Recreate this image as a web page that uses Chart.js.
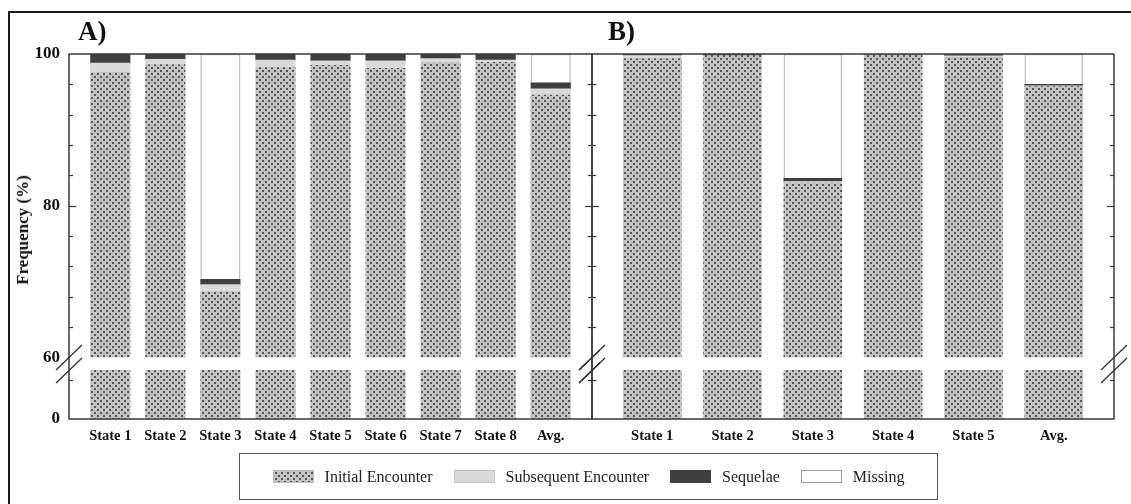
<!DOCTYPE html>
<html><head><meta charset="utf-8">
<script src="https://cdn.jsdelivr.net/npm/chart.js@4.4.1/dist/chart.umd.min.js"></script>
<style>
html,body{margin:0;padding:0;background:#fff;}
#wrap{position:relative;width:1131px;height:504px;overflow:hidden;background:#fff;font-family:'Liberation Serif','Times New Roman',serif;color:#111;}
#frame{position:absolute;left:8px;top:11px;width:1200px;height:600px;border:2px solid #1a1a1a;box-sizing:border-box;}
canvas{position:absolute;top:0;}
#cA{left:0;}
#cB{left:560px;}
.panel{position:absolute;font-weight:bold;font-size:27px;line-height:1;}
#ytitle{position:absolute;left:23px;top:230px;transform:translate(-50%,-50%) rotate(-90deg);font-weight:bold;font-size:17px;white-space:nowrap;}
#legend{position:absolute;left:239px;top:453px;width:699px;height:47px;border:1.5px solid #555;box-sizing:border-box;display:flex;align-items:center;justify-content:center;font-size:16px;color:#222;}
.item{display:flex;align-items:center;margin:0 10.5px;}
.sw{width:41px;height:13px;box-sizing:border-box;margin-right:11px;}
</style></head>
<body>
<div id="wrap">
  <div id="frame"></div>
  <canvas id="cA" width="600" height="460"></canvas>
  <canvas id="cB" width="571" height="460"></canvas>
  <div class="panel" style="left:78px;top:18px;">A)</div>
  <div class="panel" style="left:608px;top:18px;">B)</div>
  <div id="ytitle">Frequency (%)</div>
  <div id="legend"></div>
</div>
<script>
// ---------- data ----------
const seriesNames = ['Initial Encounter', 'Subsequent Encounter', 'Sequelae', 'Missing'];

const categoriesA = ['State 1', 'State 2', 'State 3', 'State 4', 'State 5', 'State 6', 'State 7', 'State 8', 'Avg.'];
const initialA    = [97.6, 98.6, 68.7, 98.2, 98.5, 98.1, 98.8, 98.9, 94.6];
const subsequentA = [1.2, 0.7, 0.9, 1.0, 0.6, 1.0, 0.6, 0.3, 0.8];
const sequelaeA   = [1.2, 0.7, 0.7, 0.8, 0.9, 0.9, 0.6, 0.8, 0.8];
const missingA    = [0, 0, 29.7, 0, 0, 0, 0, 0, 3.8];

const categoriesB = ['State 1', 'State 2', 'State 3', 'State 4', 'State 5', 'Avg.'];
const initialB    = [99.4, 99.8, 83.0, 99.9, 99.55, 95.7];
const subsequentB = [0.4, 0, 0.2, 0, 0.2, 0.1];
const sequelaeB   = [0.2, 0.2, 0.4, 0.1, 0.25, 0.2];
const missingB    = [0, 0, 16.4, 0, 0, 4.0];

const breakValue    = 60;
const topTicks      = [60, 64, 68, 72, 76, 80, 84, 88, 92, 96, 100];
const topTickLabels = [100, 80, 60];
const lowTicks      = [0, 48];
const lowTickLabels = [0];
const majorTicks    = [80];

// ---------- styles ----------
const patCanvas = document.createElement('canvas');
patCanvas.width = 6; patCanvas.height = 6;
(function () {
  const g = patCanvas.getContext('2d');
  g.fillStyle = '#c3c3c3'; g.fillRect(0, 0, 6, 6);
  g.fillStyle = '#555555'; g.fillRect(1, 1, 2, 2); g.fillRect(4, 4, 2, 2);
})();
const solidFills = [null, '#dadada', '#3f3f3f', '#ffffff'];
const borderCols = ['#bdbdbd', '#cfcfcf', '#3f3f3f', '#c4c4c4'];
const borderWs   = [0, 0, 0, 1.5];

Chart.defaults.font.family = "'Liberation Serif','Times New Roman',serif";
Chart.defaults.color = '#111';

function buildDatasets(initial, subsequent, sequelae, missing, pattern, thickness) {
  const series = [initial, subsequent, sequelae, missing];
  const ds = [];
  ds.push({
    label: seriesNames[0] + ' (below break)',
    data: initial.map(v => Math.min(v, breakValue)),
    yAxisID: 'yBot', backgroundColor: pattern, borderWidth: 0,
    grouped: false, barThickness: thickness
  });
  let cum = initial.map(() => breakValue);
  series.forEach((vals, k) => {
    const data = vals.map((v, i) => {
      const start = k === 0 ? breakValue : cum[i];
      const end = k === 0 ? v : cum[i] + v;
      return (end - start) > 0 ? [start, end] : null;
    });
    cum = cum.map((c, i) => (k === 0 ? vals[i] : c + vals[i]));
    ds.push({
      label: seriesNames[k], data, yAxisID: 'yTop',
      backgroundColor: k === 0 ? pattern : solidFills[k],
      borderColor: borderCols[k], borderWidth: borderWs[k], borderSkipped: 'start',
      grouped: false, barThickness: thickness
    });
  });
  return ds;
}

const framePlugin = {
  id: 'frame',
  afterDraw(chart) {
    const {ctx, chartArea: a} = chart;
    const yT = chart.scales.yTop, yB = chart.scales.yBot;
    const line = (x1, y1, x2, y2) => { ctx.beginPath(); ctx.moveTo(x1, y1); ctx.lineTo(x2, y2); ctx.stroke(); };
    ctx.save();
    ctx.strokeStyle = '#3a3a3a';
    ctx.lineWidth = 1.5;
    ctx.strokeRect(a.left, a.top, a.right - a.left, a.bottom - a.top);
    ctx.lineWidth = 1.2;
    const sets = [[yT, topTicks.filter(v => v > yT.min && v < yT.max)], [yB, lowTicks.filter(v => v > yB.min)]];
    for (const [s, vals] of sets) {
      for (const v of vals) {
        const y = Math.round(s.getPixelForValue(v)) + 0.5;
        const len = majorTicks.includes(v) ? 7 : 4;
        line(a.left, y, a.left + len, y);
        line(a.right, y, a.right - len, y);
      }
    }
    const yb1 = yT.getPixelForValue(yT.min), yb2 = yB.getPixelForValue(breakValue);
    ctx.lineWidth = 1.3;
    ctx.strokeStyle = '#333';
    for (const x of [a.left, a.right]) {
      for (const yc of [yb1, yb2]) line(x - 13, yc + 12.5, x + 13, yc - 12.5);
    }
    ctx.restore();
  }
};

function makeChart(id, labels, series, o) {
  const canvas = document.getElementById(id);
  const pattern = canvas.getContext('2d').createPattern(patCanvas, 'repeat');
  return new Chart(canvas, {
    type: 'bar',
    data: { labels, datasets: buildDatasets(...series, pattern, o.thickness) },
    options: {
      responsive: false, animation: false, devicePixelRatio: 1,
      layout: { padding: o.padding },
      plugins: { legend: { display: false }, tooltip: { enabled: false }, title: { display: false } },
      scales: {
        x: {
          type: 'category', offset: true,
          grid: { display: false, drawTicks: false }, border: { display: false },
          ticks: { font: { size: 14.5, weight: 'bold' }, color: '#111', padding: 9, maxRotation: 0, autoSkip: false },
          afterBuildTicks: s => { s._startValue = -0.75; s._valueRange = s.getLabels().length + 0.5; },
          afterFit: s => { s.height = 41; }
        },
        yBot: {
          type: 'linear', position: 'left', stack: 'v', stackWeight: 61.5,
          min: 0, max: 76,
          grid: { display: false, drawTicks: false }, border: { display: false },
          afterBuildTicks: s => { s.ticks = lowTicks.map(v => ({ value: v })); },
          ticks: { display: o.showY, autoSkip: false, padding: 9, color: '#111',
                   font: { size: 17, weight: 'bold' },
                   callback: v => lowTickLabels.includes(v) ? String(v) : '' },
          afterFit: s => { s.width = o.yWidth; }
        },
        yTop: {
          type: 'linear', position: 'left', stack: 'v', stackWeight: 303.5,
          min: breakValue, max: 100,
          grid: { display: false, drawTicks: false }, border: { display: false },
          afterBuildTicks: s => { s.ticks = topTicks.map(v => ({ value: v })); },
          ticks: { display: o.showY, autoSkip: false, padding: 9, color: '#111',
                   font: { size: 17, weight: 'bold' },
                   callback: v => topTickLabels.includes(v) ? String(v) : '' },
          afterFit: s => { s.width = o.yWidth; }
        }
      }
    },
    plugins: [framePlugin]
  });
}

makeChart('cA', categoriesA, [initialA, subsequentA, sequelaeA, missingA],
  { thickness: 39.5, padding: { left: 0, top: 54, right: 8, bottom: 0 }, yWidth: 69, showY: true });
makeChart('cB', categoriesB, [initialB, subsequentB, sequelaeB, missingB],
  { thickness: 58, padding: { left: 32, top: 54, right: 17, bottom: 0 }, yWidth: 0, showY: false });

// ---------- legend ----------
const legend = document.getElementById('legend');
const swStyles = [
  'background-image:url(' + patCanvas.toDataURL() + ');border:1px solid #bdbdbd;',
  'background:#dadada;border:1px solid #c4c4c4;',
  'background:#3f3f3f;border:1px solid #3f3f3f;',
  'background:#fff;border:1px solid #9a9a9a;'
];
seriesNames.forEach((name, k) => {
  const it = document.createElement('div');
  it.className = 'item';
  const sw = document.createElement('div');
  sw.className = 'sw';
  sw.style.cssText = swStyles[k];
  const tx = document.createElement('span');
  tx.textContent = name;
  it.appendChild(sw); it.appendChild(tx);
  legend.appendChild(it);
});
</script>
</body></html>
